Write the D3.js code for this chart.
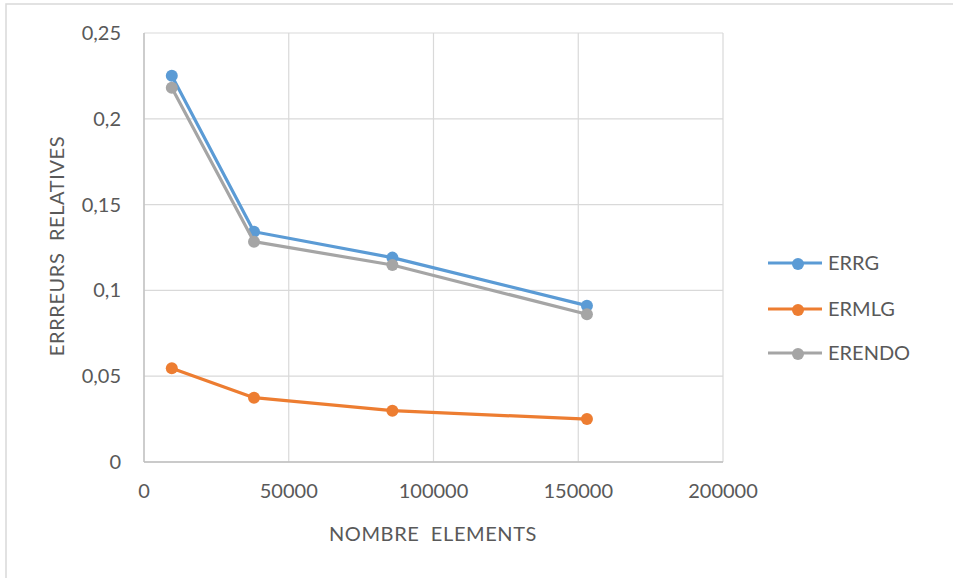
<!DOCTYPE html>
<html><head><meta charset="utf-8">
<script src="https://cdn.jsdelivr.net/npm/d3@7"></script>
<style>body{margin:0;background:#fff;} text{font-family:Lato,"Open Sans",sans-serif;}</style>
</head><body>
<svg id="c" width="953" height="578"></svg>
<script>
const xValues = [9600, 38000, 85800, 153000];
const errg = [0.2251, 0.1342, 0.1191, 0.0911];
const ermlg = [0.0546, 0.0375, 0.0299, 0.0250];
const erendo = [0.2181, 0.1284, 0.1148, 0.0861];
const seriesNames = ["ERRG", "ERMLG", "ERENDO"];
const seriesColors = ["#5B9BD5", "#ED7D31", "#A5A5A5"];
const xTicks = [0, 50000, 100000, 150000, 200000];
const yTicks = [0, 0.05, 0.1, 0.15, 0.2, 0.25];

const svg = d3.select("#c");
svg.append("rect").attr("x",6).attr("y",4).attr("width",1000).attr("height",1000)
  .attr("fill","#fff").attr("stroke","#d9d9d9").attr("stroke-width",1.5);

const m = {l:144, r:723, t:33, b:462};
const x = d3.scaleLinear().domain([0,200000]).range([m.l,m.r]);
const y = d3.scaleLinear().domain([0,0.25]).range([m.b,m.t]);
const txt = "#595959";
const fs = 20;

const g = svg.append("g");
g.selectAll(".gy").data(yTicks).join("line")
  .attr("x1",m.l).attr("x2",m.r).attr("y1",d=>y(d)).attr("y2",d=>y(d))
  .attr("stroke","#d9d9d9").attr("stroke-width",1.2);
g.selectAll(".gx").data(xTicks).join("line")
  .attr("y1",m.t).attr("y2",m.b).attr("x1",d=>x(d)).attr("x2",d=>x(d))
  .attr("stroke","#d9d9d9").attr("stroke-width",1.2);
g.append("line").attr("x1",m.l).attr("x2",m.r).attr("y1",m.b).attr("y2",m.b).attr("stroke","#bfbfbf").attr("stroke-width",1.3);
g.append("line").attr("x1",m.l).attr("x2",m.l).attr("y1",m.t).attr("y2",m.b).attr("stroke","#bfbfbf").attr("stroke-width",1.3);

const fmtY = d=> String(d).replace(".", ",");
g.selectAll(".ty").data(yTicks).join("text")
  .attr("x",121).attr("y",d=>y(d)).attr("dy","0.35em").attr("text-anchor","end")
  .attr("fill",txt).attr("font-size",fs).text(fmtY);
g.selectAll(".tx").data(xTicks).join("text")
  .attr("x",d=>x(d)).attr("y",491).attr("dy","0.35em").attr("text-anchor","middle")
  .attr("fill",txt).attr("font-size",fs).text(d=>String(d));

svg.append("text").attr("x",433).attr("y",534).attr("dy","0.35em").attr("text-anchor","middle")
  .attr("fill",txt).attr("font-size",fs).attr("letter-spacing",0.6).attr("xml:space","preserve").text("NOMBRE  ELEMENTS");
svg.append("text").attr("transform","translate(57,246) rotate(-90)").attr("dy","0.35em").attr("text-anchor","middle")
  .attr("fill",txt).attr("font-size",fs).attr("letter-spacing",0.6).attr("xml:space","preserve").text("ERRREURS  RELATIVES");

const data = [errg, ermlg, erendo];
const line = d3.line().x((d,i)=>x(xValues[i])).y(d=>y(d));
data.forEach((s,k)=>{
  const sg = svg.append("g");
  sg.append("path").datum(s).attr("d",line).attr("fill","none")
    .attr("stroke",seriesColors[k]).attr("stroke-width",3.2).attr("stroke-linejoin","round");
  sg.selectAll("circle").data(s).join("circle")
    .attr("cx",(d,i)=>x(xValues[i])).attr("cy",d=>y(d)).attr("r",6)
    .attr("fill",seriesColors[k]);
});

const ly = [263, 309, 353];
seriesNames.forEach((n,k)=>{
  const lg = svg.append("g");
  lg.append("line").attr("x1",768).attr("x2",822).attr("y1",ly[k]).attr("y2",ly[k])
    .attr("stroke",seriesColors[k]).attr("stroke-width",3.2);
  lg.append("circle").attr("cx",798).attr("cy",ly[k]+1).attr("r",6).attr("fill",seriesColors[k]);
  lg.append("text").attr("x",828).attr("y",ly[k]).attr("dy","0.35em").attr("fill",txt)
    .attr("font-size",fs).text(n);
});
</script>
</body></html>
